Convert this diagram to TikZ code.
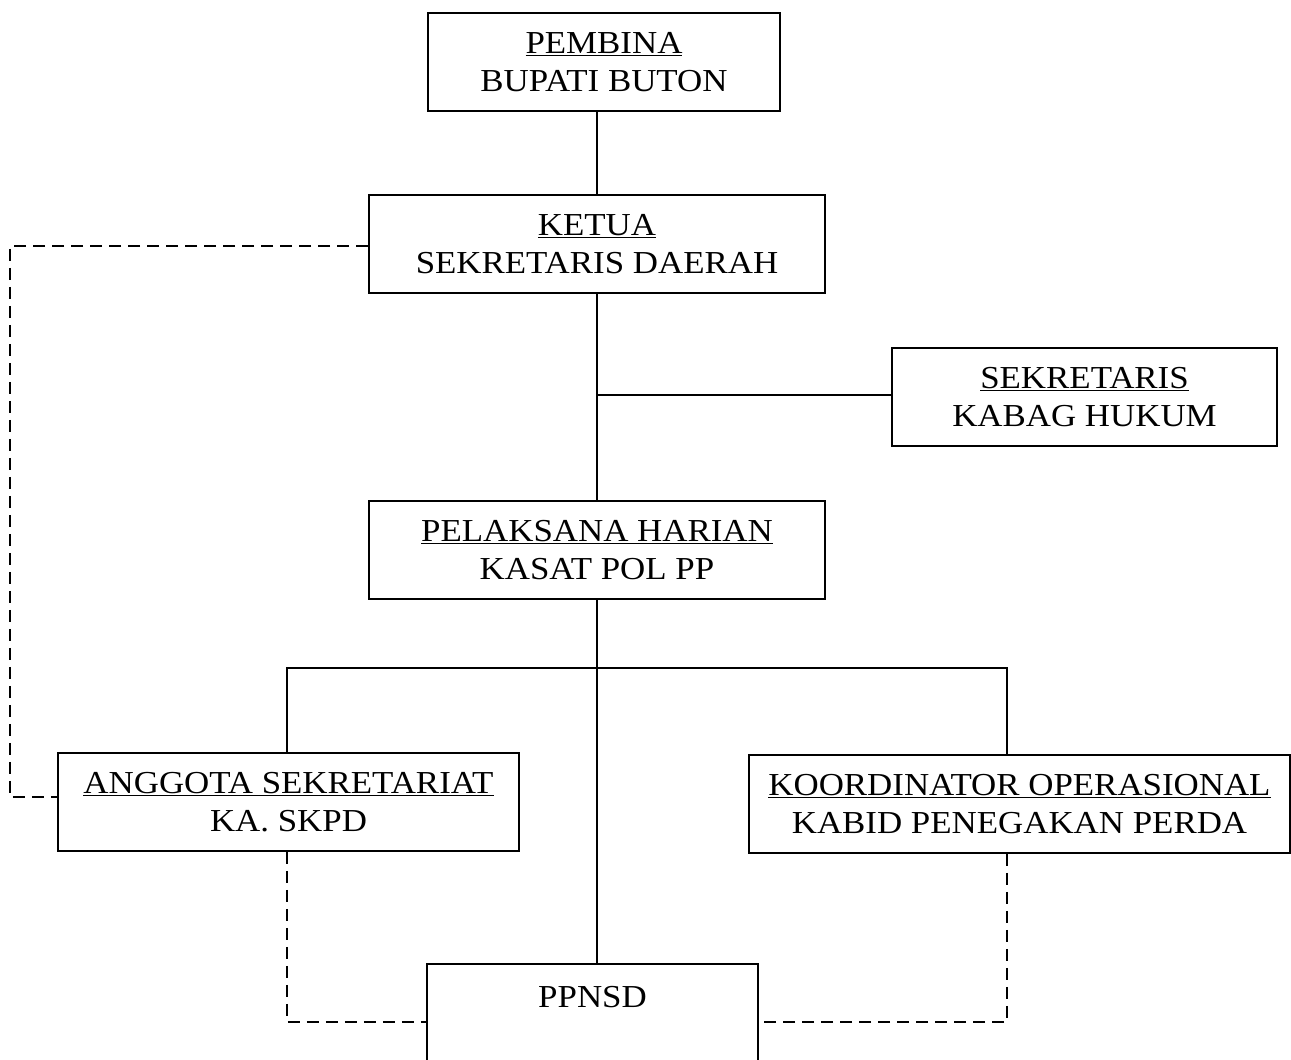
\documentclass[tikz,border=0pt]{standalone}
\usepackage{fontspec}
\setmainfont[FakeStretch=1.09]{Liberation Serif}
\begin{document}
\begin{tikzpicture}[x=1pt,y=-1pt,
  box/.style={draw, line width=1.6pt, rectangle, minimum height=98pt, inner sep=0pt, align=center,
    font=\fontsize{32}{38}\selectfont},
  conn/.style={line width=1.5pt},
  dconn/.style={line width=1.5pt, dash pattern=on 12pt off 7pt}]
\useasboundingbox (0,0) rectangle (1291,1060);
\node[box, minimum width=352pt] (pembina) at (604,62) {\underline{PEMBINA}\\BUPATI BUTON};
\node[box, minimum width=456pt] (ketua) at (597,244) {\underline{KETUA}\\SEKRETARIS DAERAH};
\node[box, minimum width=385pt] (sekr) at (1084.5,397) {\underline{SEKRETARIS}\\KABAG HUKUM};
\node[box, minimum width=456pt] (pelaks) at (597,550) {\underline{PELAKSANA HARIAN}\\KASAT POL PP};
\node[box, minimum width=461pt] (anggota) at (288.5,802) {\underline{ANGGOTA SEKRETARIAT}\\KA. SKPD};
\node[box, minimum width=541pt] (koord) at (1019.5,804) {\underline{KOORDINATOR OPERASIONAL}\\KABID PENEGAKAN PERDA};
\node[box, minimum width=331pt, minimum height=120pt, anchor=north,
  label={[anchor=north, yshift=-20pt, font=\fontsize{32}{38}\selectfont]north:PPNSD}] (ppnsd) at (592.5,963) {};
\coordinate (sbr) at (597,395);
\coordinate (hl) at (287,668);
\coordinate (hr) at (1007,668);
\coordinate (dk) at (10,246);
\coordinate (da) at (10,797);
\coordinate (al) at (287,1022);
\coordinate (kr) at (1007,1022);
\draw[conn] (ketua.north |- pembina.south) -- (ketua.north);
\draw[conn] (ketua.south) -- (pelaks.north);
\draw[conn] (sbr) -- (sekr.west |- sbr);
\draw[conn] (pelaks.south) -- (pelaks.south |- ppnsd.north);
\draw[conn] (hl |- anggota.north) -- (hl) -- (hr) -- (hr |- koord.north);
\draw[dconn] (ketua.west |- dk) -- (dk) -- (da) -- (anggota.west |- da);
\draw[dconn] (al |- anggota.south) -- (al) -- (ppnsd.west |- al);
\draw[dconn] (kr |- koord.south) -- (kr) -- (ppnsd.east |- kr);
\end{tikzpicture}
\end{document}
